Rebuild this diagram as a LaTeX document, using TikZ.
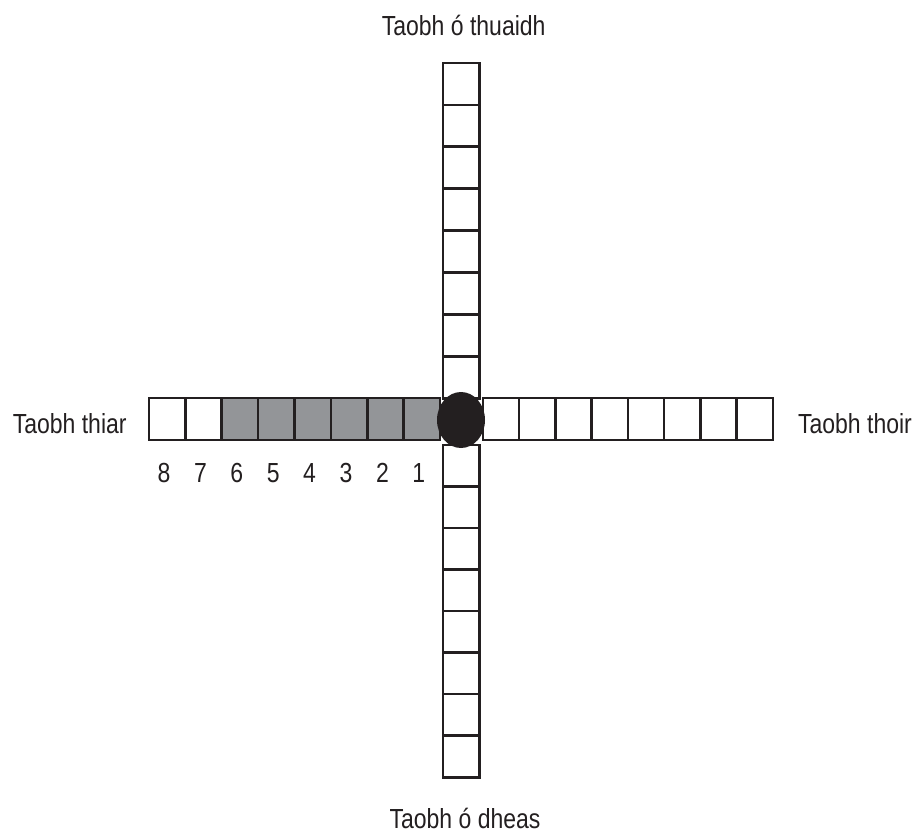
\documentclass[tikz,border=0pt]{standalone}
\usepackage{fontspec}
\usepackage{graphicx}
\setmainfont{Liberation Sans}
\usetikzlibrary{shapes.geometric}
\definecolor{gridLine}{HTML}{231F20}
\definecolor{gridFill}{HTML}{939598}
% the lettering is a little taller than it is wide
\newcommand{\tallText}[1]{\scalebox{1}[1.2]{#1}}
\tikzset{
  gridfig/.style={
    x=1pt, y=-1pt,
    every node/.append style={font=\fontsize{23}{28}\selectfont, text=gridLine},
  },
  cell/.style={
    draw=gridLine, line width=2.6pt, fill=white, inner sep=0pt,
    minimum width=36.4pt, minimum height=41.9pt,
  },
  shaded/.style={cell, fill=gridFill},
  % the black disc where the two arms cross
  hub/.style={ellipse, fill=gridLine, inner sep=0pt, minimum width=48pt, minimum height=56pt},
  side/.style={anchor=base, inner sep=0pt},
  count/.style={anchor=base, inner sep=0pt},
}

\begin{document}
\begin{tikzpicture}[gridfig]
  \useasboundingbox (0,0) rectangle (918,832);
  % north arm, from the top
  \foreach \i in {1,...,8}
    \node[cell] (n\i) at (461,{63+41.9*(\i-0.5)}) {};
  % south arm
  \foreach \i in {1,...,8}
    \node[cell] (s\i) at (461,{445+41.5*(\i-0.5)}) {};
  % east arm
  \foreach \i in {1,...,8}
    \node[cell] (e\i) at ({483+36.25*(\i-0.5)},419) {};
  % west arm, counted from the hub outwards
  \foreach \i in {1,...,6}
    \node[shaded] (w\i) at ({440-36.4*(\i-0.5)},419) {};
  \foreach \i in {7,8}
    \node[cell] (w\i) at ({440-36.4*(\i-0.5)},419) {};
  \foreach \i in {1,...,8}
    \node[count, xshift=-3pt, yshift=-63pt] (c\i) at (w\i) {\tallText{\i}};
  \node[hub] (hub) at (461,420) {};
  \node[side] (north) at (463.7,36) {\tallText{Taobh ó thuaidh}};
  \node[side] (south) at (465,828) {\tallText{Taobh ó dheas}};
  \node[side] (west) at (69.7,433) {\tallText{Taobh thiar}};
  \node[side] (east) at (855,433) {\tallText{Taobh thoir}};
\end{tikzpicture}
\end{document}
